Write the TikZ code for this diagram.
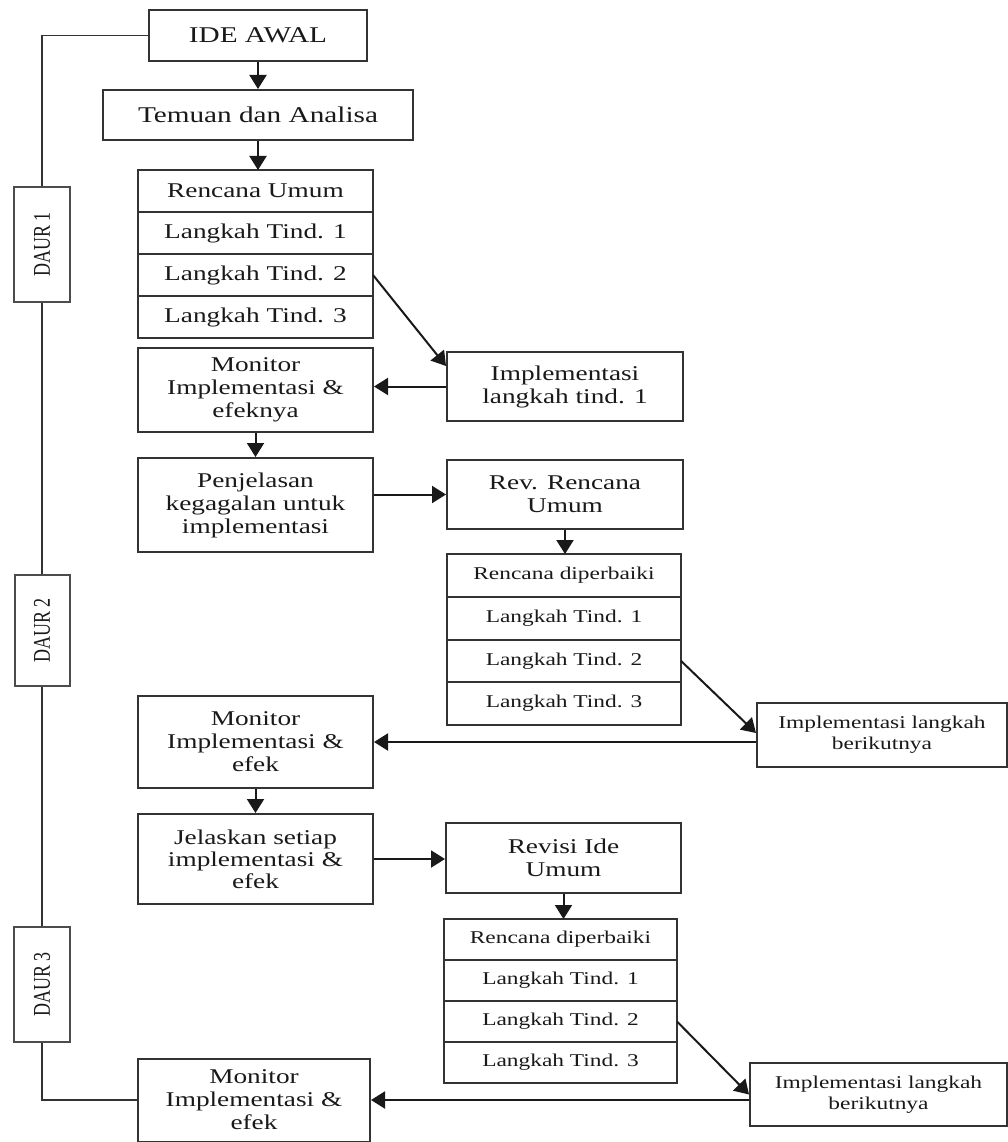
\documentclass[tikz,border=0pt]{standalone}
\usepackage{fontspec}
\setmainfont{Liberation Serif}[FakeStretch=1.3]
\newfontfamily\daurfont{Liberation Serif}[FakeStretch=0.75]
\usetikzlibrary{positioning,arrows.meta}

\begin{document}
\begin{tikzpicture}[x=1pt, y=-1pt,
        boxnode/.style={rectangle, draw=black!80, line width=2pt, text=black!90, align=center, inner sep=0pt, minimum width=235pt, font=\fontsize{21}{23}\selectfont},
        rownode/.style={boxnode, outer sep=0pt},
        smallrow/.style={rownode, font=\fontsize{18}{21}\selectfont},
        daurnode/.style={rectangle, draw=black!70, line width=2pt, text=black!90, inner sep=0pt, minimum width=56pt, minimum height=114pt, font=\daurfont\fontsize{24}{24}\selectfont},
        arr/.style={line width=2pt, draw=black!90, -{Triangle[length=14pt, width=17pt]}},
        lin/.style={line width=1.8pt, draw=black!80}]

        \useasboundingbox (0,0) rectangle (1008,1142);

        \node[boxnode, minimum width=218pt, minimum height=51pt, font=\fontsize{22.5}{24}\selectfont] (1) at (258,35.5) {IDE AWAL};
        \node[boxnode, minimum width=310pt, minimum height=50pt, font=\fontsize{22.5}{24}\selectfont] (2) at (258,115) {Temuan dan Analisa};

        \node[rownode, minimum height=42pt] (3) at (255.5,191) {Rencana Umum};
        \node[rownode, minimum height=42pt] (4) [below=0pt of 3] {Langkah Tind. 1};
        \node[rownode, minimum height=42pt] (5) [below=0pt of 4] {Langkah Tind. 2};
        \node[rownode, minimum height=42pt] (6) [below=0pt of 5] {Langkah Tind. 3};

        \node[boxnode, minimum height=84pt] (7) at (255.5,390) {Monitor\\Implementasi \&\\efeknya};
        \node[boxnode, minimum width=236pt, minimum height=69pt] (8) at (565,386.5) {Implementasi\\langkah tind. 1};

        \node[boxnode, minimum height=94pt] (9) at (255.5,505) {Penjelasan\\kegagalan untuk\\implementasi};
        \node[boxnode, minimum width=236pt, minimum height=69pt] (10) at (565,494.5) {Rev. Rencana\\Umum};

        \node[smallrow, minimum width=234pt, minimum height=42.75pt] (11) at (564,575.4) {Rencana diperbaiki};
        \node[smallrow, minimum width=234pt, minimum height=42.75pt] (12) [below=0pt of 11] {Langkah Tind. 1};
        \node[smallrow, minimum width=234pt, minimum height=42.75pt] (13) [below=0pt of 12] {Langkah Tind. 2};
        \node[smallrow, minimum width=234pt, minimum height=42.75pt] (14) [below=0pt of 13] {Langkah Tind. 3};

        \node[boxnode, minimum width=250pt, minimum height=64pt, font=\fontsize{18}{21}\selectfont] (15) at (882,735) {Implementasi langkah\\berikutnya};
        \node[boxnode, minimum height=92pt] (16) at (255.5,742) {Monitor\\Implementasi \&\\efek};

        \node[boxnode, minimum height=90pt, font=\fontsize{21}{22}\selectfont] (17) at (255.5,859) {Jelaskan setiap\\implementasi \&\\efek};
        \node[boxnode, minimum height=70pt] (18) at (563.5,858) {Revisi Ide\\Umum};

        \node[smallrow, minimum width=233pt, minimum height=41pt] (19) at (560.5,939.5) {Rencana diperbaiki};
        \node[smallrow, minimum width=233pt, minimum height=41pt] (20) [below=0pt of 19] {Langkah Tind. 1};
        \node[smallrow, minimum width=233pt, minimum height=41pt] (21) [below=0pt of 20] {Langkah Tind. 2};
        \node[smallrow, minimum width=233pt, minimum height=41pt] (22) [below=0pt of 21] {Langkah Tind. 3};

        \node[boxnode, minimum width=257pt, minimum height=63pt, font=\fontsize{18}{21}\selectfont] (23) at (878.5,1094.5) {Implementasi langkah\\berikutnya};
        \node[boxnode, minimum width=232pt, minimum height=83pt] (24) at (254,1100) {Monitor\\Implementasi \&\\efek};

        \node[daurnode, minimum height=115pt] (d1) at (42,244.5) {\rotatebox{90}{DAUR 1}};
        \node[daurnode, minimum width=55pt, minimum height=111pt] (d2) at (42,630.5) {\rotatebox{90}{DAUR 2}};
        \node[daurnode, minimum height=115pt] (d3) at (42,984.5) {\rotatebox{90}{DAUR 3}};

        \draw[lin] (1.west) -| (d1.north);
        \draw[lin] (d1) -- (d2);
        \draw[lin] (d2) -- (d3);
        \draw[lin] (d3.south) |- (24.west);

        \draw[arr] (1) -- (2);
        \draw[arr] (2.south) -- (2.south |- 3.north);
        \draw[arr] (5.east) -- ([yshift=-15pt]8.north west);
        \draw[arr] (8.west) -- (8.west -| 7.east);
        \draw[arr] (7) -- (9);
        \draw[arr] (9.east |- 10.west) -- (10.west);
        \draw[arr] (10.south) -- (10.south |- 11.north);
        \draw[arr] (13.east) -- ([yshift=2pt]15.west);
        \draw[arr] (16.east -| 15.west) -- (16.east);
        \draw[arr] (16) -- (17);
        \draw[arr] (17.east) -- (17.east -| 18.west);
        \draw[arr] (18.south) -- (18.south |- 19.north);
        \draw[arr] (21.east) -- (23.west);
        \draw[arr] (24.east -| 23.west) -- (24.east);

\end{tikzpicture}
\end{document}
